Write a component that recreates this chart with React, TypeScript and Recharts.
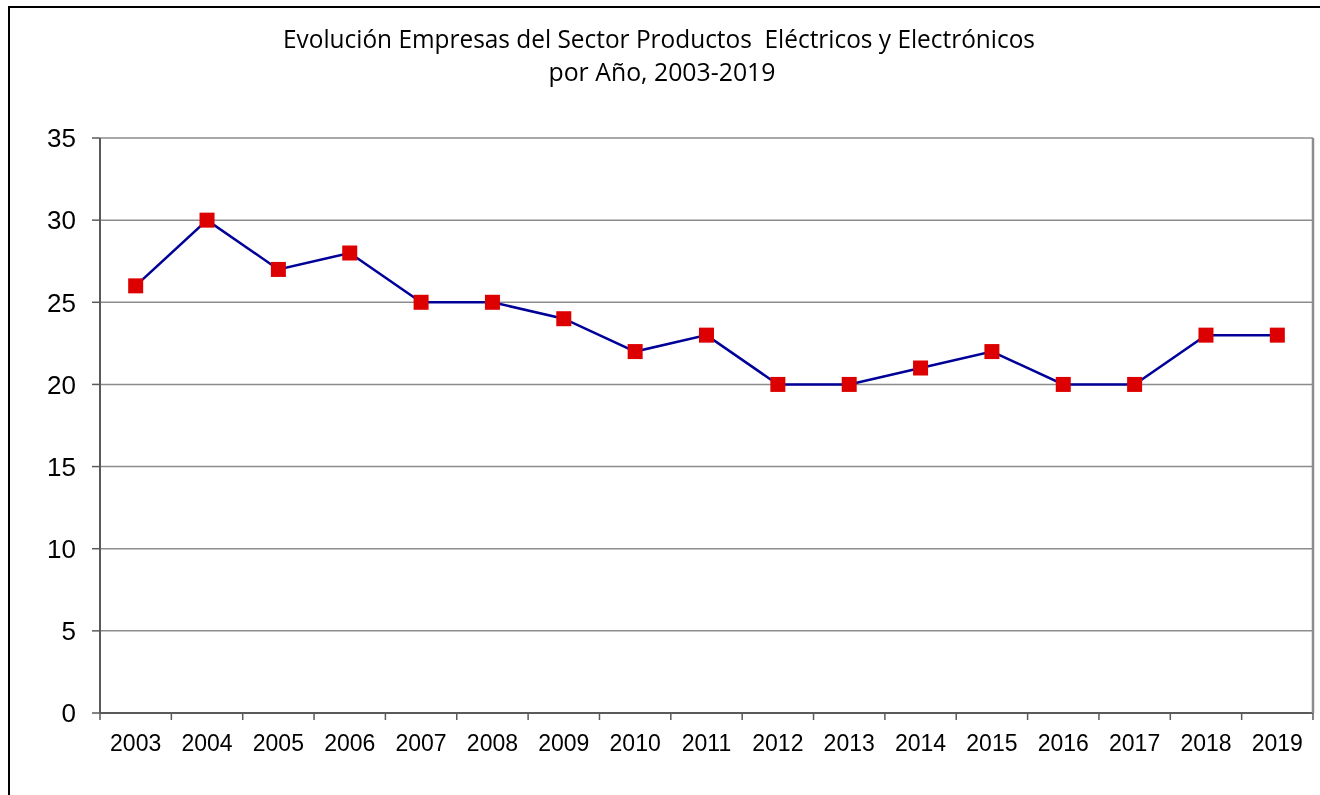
import React from 'react';
import { LineChart, Line, XAxis, YAxis, CartesianGrid } from 'recharts';

const years = ['2003','2004','2005','2006','2007','2008','2009','2010','2011','2012','2013','2014','2015','2016','2017','2018','2019'];
const empresas = [26, 30, 27, 28, 25, 25, 24, 22, 23, 20, 20, 21, 22, 20, 20, 23, 23];
const yTicks = [0, 5, 10, 15, 20, 25, 30, 35];
const titleLines = ['Evolución Empresas del Sector Productos  Eléctricos y Electrónicos', 'por Año, 2003-2019'];

const data = years.map((y, i) => ({ year: y, value: empresas[i] }));

const AXIS = '#5a5a5a';
const GRID = '#8c8c8c';

const XTick = (props: any) => {
  const { x, y, payload, index, visibleTicksCount, width } = props;
  const half = payload && typeof payload.offset === 'number' && payload.offset > 0
    ? payload.offset
    : width / visibleTicksCount / 2;
  return (
    <g>
      <line x1={x - half} x2={x - half} y1={y} y2={y + 7} stroke={AXIS} strokeWidth={1.5} />
      {index === visibleTicksCount - 1 && (
        <line x1={x + half} x2={x + half} y1={y} y2={y + 7} stroke={AXIS} strokeWidth={1.5} />
      )}
      <text x={x} y={y + 38} textAnchor="middle" fontFamily="'Liberation Sans', Arial, sans-serif" fontSize={23} fill="#000">
        {payload.value}
      </text>
    </g>
  );
};

const SquareDot = (props: any) => {
  const { cx, cy, index } = props;
  if (cx == null || cy == null) return <g key={`d${index}`} />;
  return <rect key={`d${index}`} x={cx - 7.5} y={cy - 7.5} width={15} height={15} fill="#dd0000" />;
};

export default function App() {
  return (
    <div>
      <div
        style={{
          position: 'fixed',
          left: 8,
          top: 6,
          width: 1312,
          height: 789,
          borderTop: '2px solid #000',
          borderLeft: '2px solid #000',
          boxSizing: 'border-box',
        }}
      />
      <svg style={{ position: 'fixed', left: 0, top: 0 }} width={1320} height={100}>
        <text x={659} y={48} textAnchor="middle" fontFamily="'Open Sans', sans-serif" fontSize={25} fill="#000"
          textLength={752} lengthAdjust="spacingAndGlyphs" style={{ whiteSpace: 'pre' }}>
          {titleLines[0]}
        </text>
        <text x={662} y={81} textAnchor="middle" fontFamily="'Open Sans', sans-serif" fontSize={25} fill="#000"
          textLength={227} lengthAdjust="spacingAndGlyphs">
          {titleLines[1]}
        </text>
      </svg>
      <div style={{ position: 'fixed', left: 0, top: 0 }}>
        <LineChart width={1320} height={795} data={data} margin={{ top: 138, right: 0, bottom: 81, left: 0 }}>
          <CartesianGrid vertical={false} stroke={GRID} strokeWidth={1.5} />
          <XAxis
            dataKey="year"
            type="category"
            scale="band"
            height={1}
            interval={0}
            tickSize={0}
            tickMargin={0}
            tickLine={false}
            axisLine={{ stroke: AXIS, strokeWidth: 2 }}
            tick={<XTick />}
          />
          <YAxis
            width={100}
            domain={[0, 35]}
            ticks={yTicks}
            interval={0}
            tickSize={8}
            tickMargin={16}
            axisLine={{ stroke: AXIS, strokeWidth: 2 }}
            tickLine={{ stroke: AXIS, strokeWidth: 1.5 }}
            tick={{ fontSize: 26, fill: '#000', fontFamily: "'Liberation Sans', Arial, sans-serif" }}
          />
          <YAxis
            yAxisId="r"
            orientation="right"
            width={7}
            domain={[0, 35]}
            tick={false}
            tickLine={false}
            axisLine={{ stroke: GRID, strokeWidth: 2.5 }}
          />
          <Line
            type="linear"
            dataKey="value"
            stroke="#000099"
            strokeWidth={2.5}
            dot={SquareDot}
            activeDot={false}
            isAnimationActive={false}
          />
        </LineChart>
      </div>
    </div>
  );
}
